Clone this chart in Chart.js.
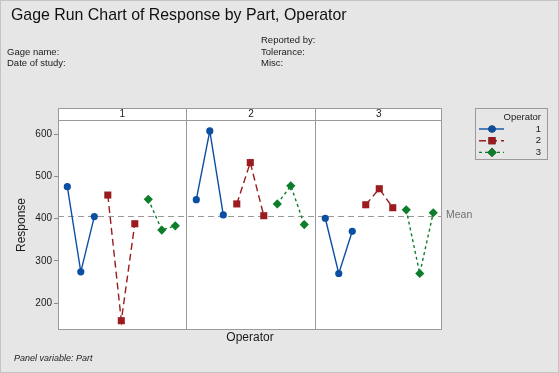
<!DOCTYPE html>
<html>
<head>
<meta charset="utf-8">
<script src="https://cdn.jsdelivr.net/npm/chart.js@4.4.1/dist/chart.umd.min.js"></script>
<style>
  html, body { margin: 0; padding: 0; background: #e6e6e6; }
  canvas { display: block; }
</style>
</head>
<body>
<canvas id="chart" width="559" height="373"></canvas>
<script>
"use strict";

const parts = ["1", "2", "3"];
const operators = ["1", "2", "3"];
// three runs per part for each operator
const operator1 = [[476, 274, 405], [445, 608, 409], [401, 270, 370]];
const operator2 = [[456, 158, 388], [435, 533, 407], [433, 471, 426]];
const operator3 = [[446, 373, 383], [435, 478, 386], [421, 270, 414]];
const yTicks = [200, 300, 400, 500, 600];

const colors = ["#0b4fa3", "#9b1b1e", "#0c7d2a"];
const PANEL_STEP = 9.556; // 9 runs + gap between panels
const FONT = "'Liberation Sans', Arial, sans-serif";

const allValues = [operator1, operator2, operator3].flat(2);
const meanResponse = allValues.reduce((a, b) => a + b, 0) / allValues.length;

function toPoints(series, opIndex) {
  const pts = [];
  series.forEach((runs, p) => {
    runs.forEach((v, k) => pts.push({ x: p * PANEL_STEP + opIndex * 3 + k, y: v }));
    pts.push({ x: p * PANEL_STEP + opIndex * 3 + 2.5, y: null });
  });
  return pts;
}

const styles = [
  { pointStyle: "circle", pointRadius: 3.6, borderDash: [] },
  { pointStyle: "rect", pointRadius: 5, borderDash: [7, 4] },
  { pointStyle: "rectRot", pointRadius: 4.6, borderDash: [3, 3] },
];

const datasets = [operator1, operator2, operator3].map((s, i) => ({
  label: operators[i],
  data: toPoints(s, i),
  borderColor: colors[i],
  backgroundColor: colors[i],
  pointBorderColor: colors[i],
  borderWidth: 1.4,
  borderDash: styles[i].borderDash,
  pointStyle: styles[i].pointStyle,
  pointRadius: styles[i].pointRadius,
  pointBorderWidth: 0,
  tension: 0,
}));

function text(ctx, str, x, y, font, color, align, base) {
  ctx.font = font;
  ctx.fillStyle = color || "#1a1a1a";
  ctx.textAlign = align || "left";
  ctx.textBaseline = base || "middle";
  ctx.fillText(str, x, y);
}

const panelPlugin = {
  id: "panels",
  beforeDraw(chart) {
    const ctx = chart.ctx;
    const a = chart.chartArea;
    ctx.save();
    ctx.fillStyle = "#e6e6e6";
    ctx.fillRect(0, 0, chart.width, chart.height);
    ctx.strokeStyle = "#c4c4c4";
    ctx.lineWidth = 1;
    ctx.strokeRect(0.5, 0.5, chart.width - 1, chart.height - 1);
    ctx.fillStyle = "#ffffff";
    ctx.fillRect(a.left, a.top - 12, a.right - a.left, a.bottom - a.top + 12);
    ctx.restore();
  },
  beforeDatasetsDraw(chart) {
    const ctx = chart.ctx;
    const a = chart.chartArea;
    const y = Math.round(chart.scales.y.getPixelForValue(meanResponse)) + 0.5;
    ctx.save();
    ctx.strokeStyle = "#999999";
    ctx.lineWidth = 1.2;
    ctx.setLineDash([6, 4]);
    ctx.beginPath();
    ctx.moveTo(a.left, y);
    ctx.lineTo(a.right, y);
    ctx.stroke();
    ctx.restore();
  },
  afterDatasetsDraw(chart) {
    const ctx = chart.ctx;
    const a = chart.chartArea;
    const xs = chart.scales.x;
    const stripTop = a.top - 12;
    ctx.save();
    ctx.strokeStyle = "#9a9a9a";
    ctx.lineWidth = 1;
    ctx.strokeRect(Math.round(a.left) + 0.5, stripTop + 0.5, Math.round(a.right - a.left) - 1, Math.round(a.bottom - stripTop) - 1);
    ctx.beginPath();
    ctx.moveTo(a.left, a.top + 0.5);
    ctx.lineTo(a.right, a.top + 0.5);
    const bounds = [a.left];
    for (let p = 1; p < parts.length; p++) {
      const bx = Math.round(xs.getPixelForValue(p * PANEL_STEP - 0.778)) + 0.5;
      bounds.push(bx);
      ctx.moveTo(bx, stripTop);
      ctx.lineTo(bx, a.bottom);
    }
    bounds.push(a.right);
    ctx.stroke();
    parts.forEach((lbl, p) => {
      text(ctx, lbl, (bounds[p] + bounds[p + 1]) / 2, stripTop + 6.5, "10px " + FONT, "#1a1a1a", "center");
    });
    ctx.restore();
  },
  afterDraw(chart) {
    const ctx = chart.ctx;
    const a = chart.chartArea;
    ctx.save();

    // title, fitted to the reference width
    const title = "Gage Run Chart of Response by Part, Operator";
    ctx.font = "18px " + FONT;
    const size = Math.min(18, 18 * 336 / ctx.measureText(title).width);
    text(ctx, title, 11, 16, size + "px " + FONT, "#111111");

    const hdr = "9.5px " + FONT;
    text(ctx, "Reported by:", 261, 40, hdr);
    text(ctx, "Gage name:", 7, 52, hdr);
    text(ctx, "Tolerance:", 261, 52, hdr);
    text(ctx, "Date of study:", 7, 63.5, hdr);
    text(ctx, "Misc:", 261, 63.5, hdr);

    // axis titles
    ctx.save();
    ctx.translate(22, (a.top + a.bottom) / 2);
    ctx.rotate(-Math.PI / 2);
    text(ctx, "Response", 0, 0, "12px " + FONT, "#1a1a1a", "center");
    ctx.restore();
    text(ctx, "Operator", (a.left + a.right) / 2, 338, "12px " + FONT, "#1a1a1a", "center");
    text(ctx, "Panel variable: Part", 14, 358.5, "italic 9px " + FONT, "#1a1a1a");

    // mean label
    text(ctx, "Mean", a.right + 4, chart.scales.y.getPixelForValue(meanResponse) - 0.5, "10.5px " + FONT, "#707070");

    // legend
    const lx = 475.5, ly = 108.5, lw = 72, lh = 51;
    ctx.strokeStyle = "#9a9a9a";
    ctx.lineWidth = 1;
    ctx.strokeRect(lx, ly, lw, lh);
    text(ctx, "Operator", 541, 117, "9.5px " + FONT, "#1a1a1a", "right");
    chart.data.datasets.forEach((ds, i) => {
      const y = 129 + i * 11.7;
      ctx.strokeStyle = ds.borderColor;
      ctx.lineWidth = 1.4;
      ctx.setLineDash(ds.borderDash);
      ctx.beginPath();
      ctx.moveTo(479, y);
      ctx.lineTo(504, y);
      ctx.stroke();
      ctx.setLineDash([]);
      Chart.helpers.drawPoint(ctx, { pointStyle: ds.pointStyle, rotation: 0, borderWidth: 0 }, 492, y);
      ctx.fillStyle = ds.backgroundColor;
      ctx.fill();
      text(ctx, operators[i], 541, y, "9.5px " + FONT, "#1a1a1a", "right");
    });
    ctx.restore();
  },
};

// patch: drawPoint needs radius; wrap for the legend markers
const origDrawPoint = Chart.helpers.drawPoint;
Chart.helpers.drawPoint = function (ctx, opts, x, y) {
  const r = { circle: 3.6, rect: 5, rectRot: 4.6 }[opts.pointStyle] || 4;
  ctx.beginPath();
  return origDrawPoint(ctx, Object.assign({ radius: r }, opts), x, y);
};

new Chart(document.getElementById("chart"), {
  type: "line",
  data: { datasets },
  plugins: [panelPlugin],
  options: {
    responsive: false,
    animation: false,
    layout: { padding: { left: 0, top: 120, right: 117, bottom: 43 } },
    plugins: { legend: { display: false }, tooltip: { enabled: false } },
    scales: {
      x: {
        type: "linear",
        display: false,
        min: -0.69,
        max: 27.76,
      },
      y: {
        min: 136,
        max: 634,
        afterFit(scale) { scale.width = 58; },
        afterBuildTicks(scale) { scale.ticks = yTicks.map((v) => ({ value: v })); },
        grid: { drawOnChartArea: false, tickLength: 4, color: "#8a8a8a" },
        border: { display: false },
        ticks: { padding: 2, color: "#1a1a1a", font: { size: 10, family: FONT } },
      },
    },
  },
});
</script>
</body>
</html>
